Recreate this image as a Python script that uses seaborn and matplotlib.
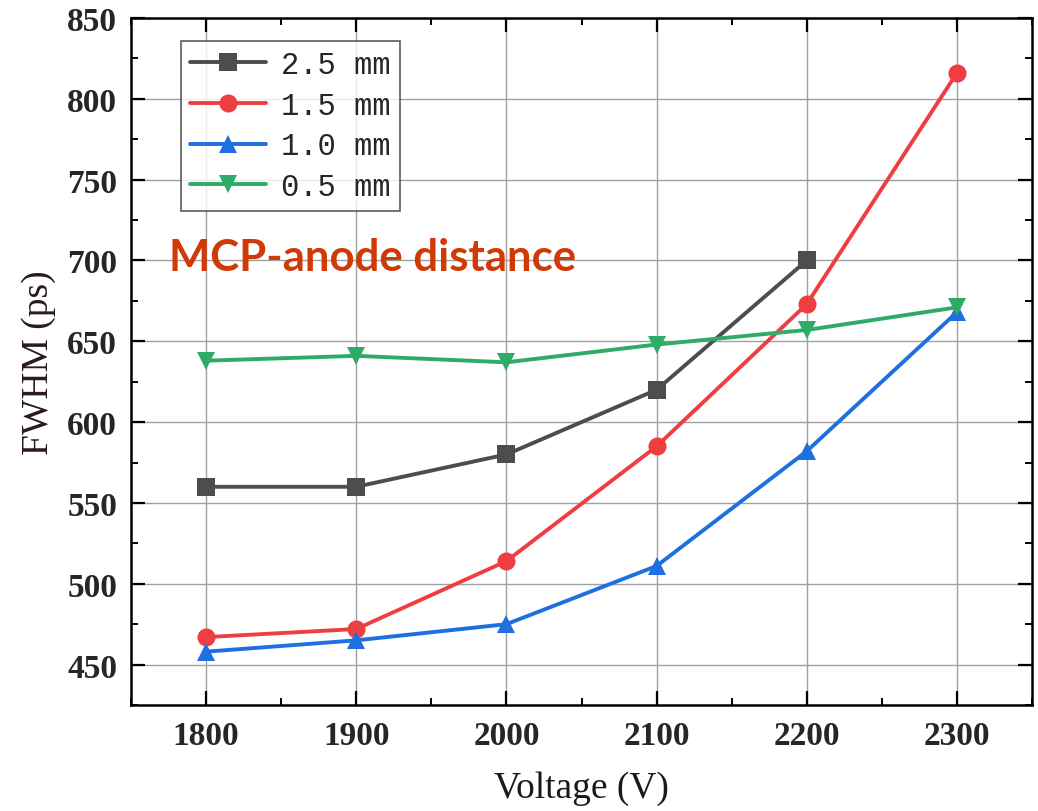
import matplotlib
matplotlib.use("Agg")
import matplotlib.pyplot as plt
import seaborn as sns
import pandas as pd
import numpy as np
from matplotlib.ticker import MultipleLocator

voltage = [1800, 1900, 2000, 2100, 2200, 2300]
fwhm_25 = [560, 560, 580, 620, 700, np.nan]
fwhm_15 = [467, 472, 514, 585, 673, 816]
fwhm_10 = [458, 465, 475, 511, 582, 668]
fwhm_05 = [638, 641, 637, 648, 657, 671]
labels = ["2.5 mm", "1.5 mm", "1.0 mm", "0.5 mm"]
colors = ["#4d4d4d", "#ef3e42", "#1f6fe0", "#2eab67"]
markers = ["s", "o", "^", "v"]

sns.set_theme(style="white")
plt.rcParams["font.family"] = ["Liberation Serif", "DejaVu Serif"]

rows = []
for lab, vals in zip(labels, [fwhm_25, fwhm_15, fwhm_10, fwhm_05]):
    for v, f in zip(voltage, vals):
        if not np.isnan(f):
            rows.append({"Voltage": v, "FWHM": f, "Series": lab})
df = pd.DataFrame(rows)

fig = plt.figure(figsize=(10.38, 8.12), dpi=100)
ax = fig.add_axes([131/1038, (812-706)/812, (1032-131)/1038, (706-19)/812])

for lab, col, mk in zip(labels, colors, markers):
    sub = df[df["Series"] == lab]
    sns.lineplot(data=sub, x="Voltage", y="FWHM", ax=ax, color=col, marker=mk,
                 markersize=13, markeredgewidth=0, linewidth=2.8, label=lab,
                 zorder=3)

ax.set_xlim(1750, 2350)
ax.set_ylim(425, 850)
ax.xaxis.set_major_locator(MultipleLocator(100))
ax.xaxis.set_minor_locator(MultipleLocator(50))
ax.yaxis.set_major_locator(MultipleLocator(50))
ax.yaxis.set_minor_locator(MultipleLocator(25))
ax.grid(True, which="major", color="#a0a0a0", linewidth=1.0, zorder=0)
ax.set_axisbelow(True)

for s in ax.spines.values():
    s.set_linewidth(1.8)
    s.set_color("black")

ax.tick_params(which="major", direction="in", length=10, width=1.6,
               top=True, right=True, bottom=True, left=True, color="black")
ax.tick_params(which="minor", direction="in", length=5, width=1.4,
               top=True, right=True, bottom=True, left=True, color="black")
ax.tick_params(axis="x", which="major", pad=11)
ax.tick_params(axis="y", which="major", pad=10)
for t in ax.get_xticklabels() + ax.get_yticklabels():
    t.set_fontsize(24)
    t.set_fontweight("bold")
    t.set_family(["Liberation Serif"])

ax.set_xlabel("Voltage (V)", fontsize=27, color="#1a1a1a", labelpad=14)
ax.set_ylabel("FWHM (ps)", fontsize=27, color="#2a1a1a", labelpad=8)

leg = ax.legend(loc="upper left", bbox_to_anchor=(0.055, 0.967),
                prop={"family": "Liberation Mono", "size": 22},
                frameon=True, fancybox=False, edgecolor="#333333",
                handlelength=2.5, handletextpad=0.5, borderpad=0.3,
                labelspacing=0.35, borderaxespad=0, markerscale=1.0)
leg.get_frame().set_linewidth(1.2)

ax.text(0.042, 0.652, "MCP-anode distance", transform=ax.transAxes,
        fontsize=31.5, fontweight="bold", color="#cf3a06",
        family=["Lato", "DejaVu Sans"], va="center", ha="left", zorder=2)

fig.savefig("out.png", dpi=100)
